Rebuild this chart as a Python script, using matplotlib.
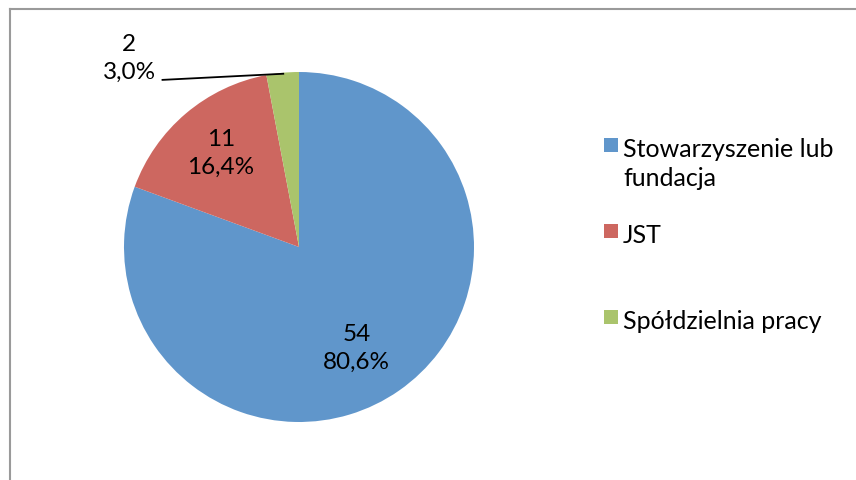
import matplotlib
matplotlib.use("Agg")
import matplotlib.pyplot as plt
from matplotlib.lines import Line2D
from matplotlib.patches import Rectangle

# Data
categories = ["Stowarzyszenie lub\nfundacja", "JST", "Spółdzielnia pracy"]
counts = [54, 11, 2]
colors = ["#6096CB", "#CD6760", "#AAC46C"]

plt.rcParams["font.family"] = ["Lato", "DejaVu Sans"]
FS = 17.5

W, H = 856, 481
fig = plt.figure(figsize=(W / 100, H / 100), dpi=100)

# pie centre at pixel (299, 248), radius 175 px
R = 175
lim = 1.3
side = 2 * lim * R
cx, cy = 299, H - 248
ax = fig.add_axes([(cx - side / 2) / W, (cy - side / 2) / H, side / W, side / H])

total = sum(counts)


def fmt(pct):
    n = int(round(pct * total / 100))
    return f"{n}\n{pct:.1f}%".replace(".", ",")


wedges, texts, autotexts = ax.pie(counts, colors=colors, startangle=90,
                                  counterclock=False, autopct=fmt,
                                  pctdistance=0.68,
                                  wedgeprops=dict(linewidth=0),
                                  textprops=dict(fontsize=FS, color="black",
                                                 linespacing=1.4))
ax.set_xlim(-lim, lim)
ax.set_ylim(-lim, lim)
ax.set_aspect("equal")

# label placement as in the original (best fit)
autotexts[0].set_position((0.33, -0.575))
autotexts[1].set_position((-0.446, 0.54))
# small slice: label outside with a leader line
autotexts[2].set_position((-0.97, 1.083))
ax.plot([-0.78, -0.09], [0.955, 0.99], color="black", lw=1.3)

# frame of the chart area (only top and left edges visible)
fig.add_artist(Line2D([9.5 / W, 9.5 / W], [0, 1 - 9.5 / H],
                      transform=fig.transFigure, color="#9A9A9A", lw=1.5))
fig.add_artist(Line2D([9.5 / W, 1], [1 - 9.5 / H, 1 - 9.5 / H],
                      transform=fig.transFigure, color="#9A9A9A", lw=1.5))

# legend
legend_rows = [146, 232, 318]  # pixel y of each swatch centre
for lab, col, y in zip(categories, colors, legend_rows):
    fig.add_artist(Rectangle((604 / W, (H - y - 7) / H), 14 / W, 14 / H,
                             transform=fig.transFigure, facecolor=col,
                             edgecolor="none"))
    for i, line in enumerate(lab.split("\n")):
        fig.text(623 / W, (H - y - 11 - 29 * i) / H, line, fontsize=18,
                 va="baseline", ha="left")

fig.savefig("out.png", dpi=100)
